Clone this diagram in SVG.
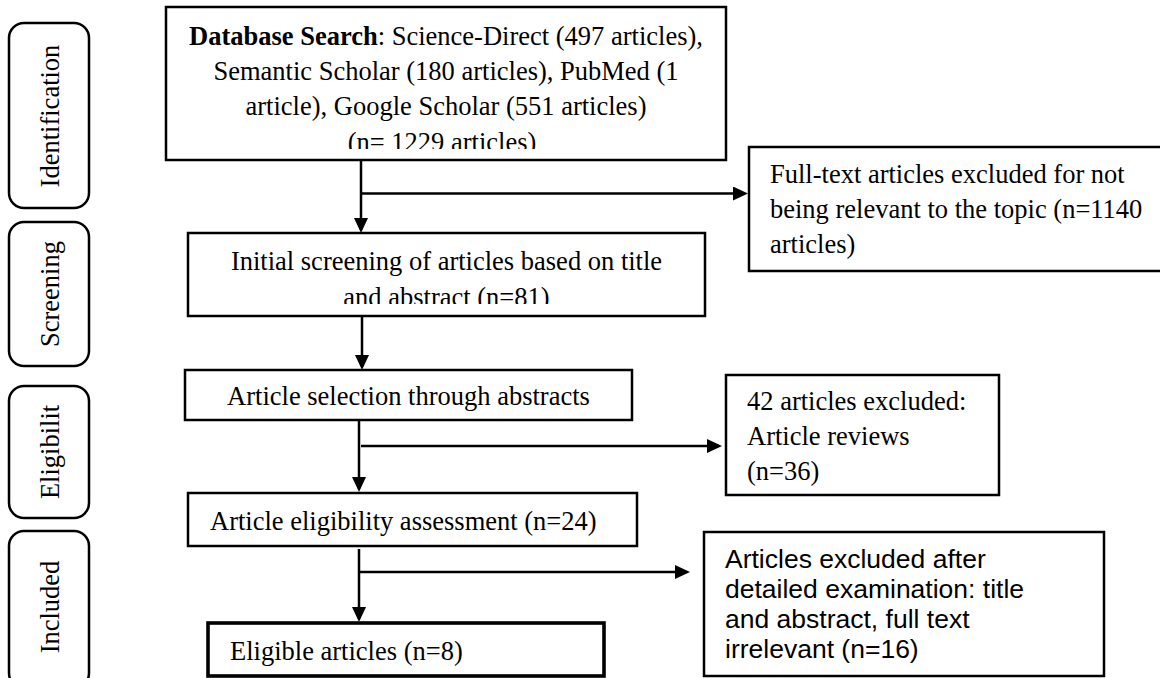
<svg xmlns="http://www.w3.org/2000/svg" width="1160" height="678" viewBox="0 0 1160 678">
  <style>
    .box { fill: #ffffff; stroke: #000000; stroke-width: 2.5; }
    .thick { stroke-width: 3.6; }
    .pill { fill: #ffffff; stroke: #000000; stroke-width: 2.5; }
    .t { font-family: "Liberation Serif", "Times New Roman", serif; font-size: 26.5px; fill: #000000; }
    .a { font-family: "Liberation Sans", Arial, sans-serif; font-size: 26.5px; fill: #000000; }
    .c { text-anchor: middle; }
    .conn { stroke: #000000; stroke-width: 2.5; fill: none; }
  </style>
  <defs>
    <marker id="arrow" viewBox="0 0 15 14" refX="12" refY="7" markerWidth="15" markerHeight="14" markerUnits="userSpaceOnUse" orient="auto">
      <path d="M0,0 L15,7 L0,14 Z" fill="#000000"/>
    </marker>
    <clipPath id="clipDb"><rect x="166" y="7" width="560" height="142"/></clipPath>
    <clipPath id="clipScr"><rect x="188" y="233" width="517" height="71"/></clipPath>
  </defs>

  <rect width="1160" height="678" fill="#ffffff"/>

  <!-- Phase labels -->
  <g id="phase-identification">
    <rect class="pill" x="9" y="23" width="80" height="185" rx="15" ry="15"/>
    <text class="t c" transform="translate(59,116) rotate(-90)">Identification</text>
  </g>
  <g id="phase-screening">
    <rect class="pill" x="9" y="222" width="80" height="144" rx="15" ry="15"/>
    <text class="t c" transform="translate(59,294) rotate(-90)">Screening</text>
  </g>
  <g id="phase-eligibility">
    <rect class="pill" x="9" y="386" width="80" height="132" rx="15" ry="15"/>
    <text class="t c" transform="translate(59,452) rotate(-90)">Eligibilit</text>
  </g>
  <g id="phase-included">
    <rect class="pill" x="9" y="531" width="80" height="157" rx="15" ry="15"/>
    <text class="t c" transform="translate(59,607) rotate(-90)">Included</text>
  </g>

  <!-- Connectors -->
  <g id="connectors">
    <line class="conn" x1="361" y1="160" x2="361" y2="230" marker-end="url(#arrow)"/>
    <line class="conn" x1="361" y1="193.5" x2="745" y2="193.5" marker-end="url(#arrow)"/>
    <line class="conn" x1="362" y1="316" x2="362" y2="367" marker-end="url(#arrow)"/>
    <line class="conn" x1="359" y1="420" x2="359" y2="489" marker-end="url(#arrow)"/>
    <line class="conn" x1="361" y1="446" x2="719" y2="446" marker-end="url(#arrow)"/>
    <line class="conn" x1="359" y1="549" x2="359" y2="619" marker-end="url(#arrow)"/>
    <line class="conn" x1="359" y1="572" x2="687" y2="572" marker-end="url(#arrow)"/>
  </g>

  <!-- Nodes -->
  <g id="database-search">
    <rect class="box" x="166" y="7" width="560" height="153"/>
    <g clip-path="url(#clipDb)">
      <text class="t c" x="446" y="45"><tspan font-weight="bold">Database Search</tspan>: Science-Direct (497 articles),</text>
      <text class="t c" x="446" y="80">Semantic Scholar (180 articles), PubMed (1</text>
      <text class="t c" x="446" y="115">article), Google Scholar (551 articles)</text>
      <text class="t c" x="442" y="151">(n= 1229 articles)</text>
    </g>
  </g>

  <g id="excluded-fulltext">
    <rect class="box" x="749" y="147" width="420" height="124"/>
    <text class="t" x="770" y="183">Full-text articles excluded for not</text>
    <text class="t" x="770" y="218">being relevant to the topic (n=1140</text>
    <text class="t" x="770" y="253">articles)</text>
  </g>

  <g id="initial-screening">
    <rect class="box" x="188" y="233" width="517" height="83"/>
    <g clip-path="url(#clipScr)">
      <text class="t c" x="446.5" y="270">Initial screening of articles based on title</text>
      <text class="t c" x="446.5" y="306">and abstract (n=81)</text>
    </g>
  </g>

  <g id="article-selection">
    <rect class="box" x="185" y="370" width="447" height="50"/>
    <text class="t c" x="408.5" y="405">Article selection through abstracts</text>
  </g>

  <g id="excluded-reviews">
    <rect class="box" x="726" y="375" width="273" height="120"/>
    <text class="t" x="747" y="410">42 articles excluded:</text>
    <text class="t" x="747" y="445">Article reviews</text>
    <text class="t" x="747" y="480">(n=36)</text>
  </g>

  <g id="eligibility-assessment">
    <rect class="box" x="188" y="493" width="449" height="53"/>
    <text class="t" x="210" y="530">Article eligibility assessment (n=24)</text>
  </g>

  <g id="excluded-detailed">
    <rect class="box" x="704" y="532" width="400" height="144"/>
    <text class="a" x="725" y="568">Articles excluded after</text>
    <text class="a" x="725" y="598">detailed examination: title</text>
    <text class="a" x="725" y="628">and abstract, full text</text>
    <text class="a" x="725" y="658">irrelevant (n=16)</text>
  </g>

  <g id="eligible-articles">
    <rect class="box thick" x="208" y="623" width="396" height="53"/>
    <text class="t" x="230" y="660">Eligible articles (n=8)</text>
  </g>
</svg>
